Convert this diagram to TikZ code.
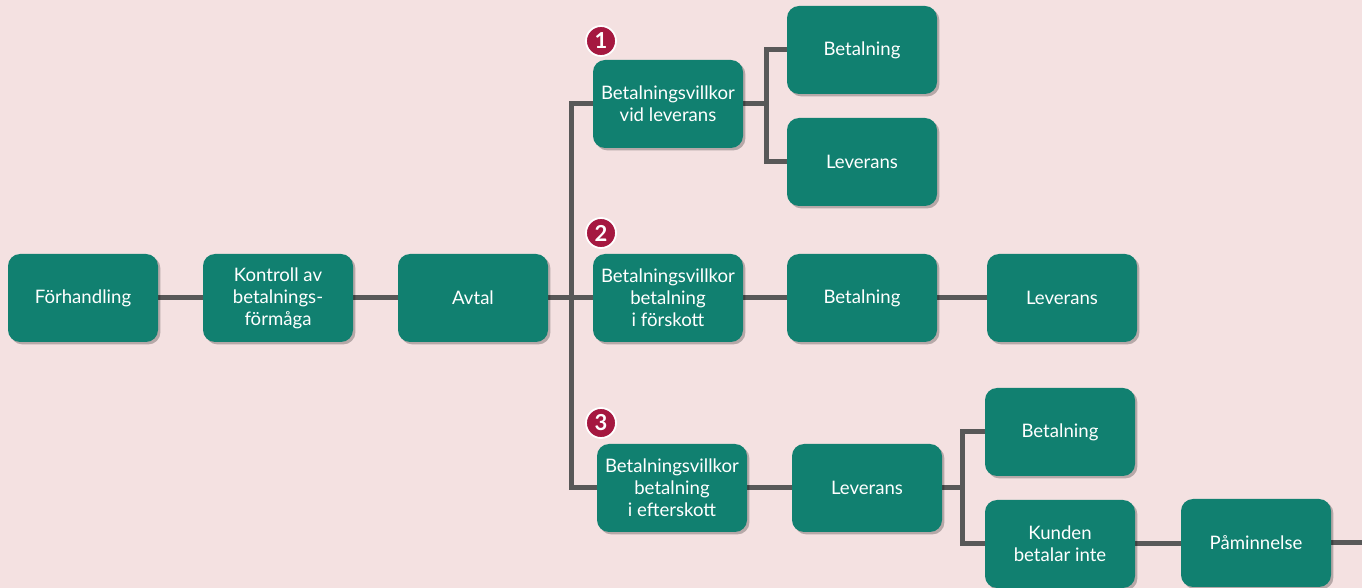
\documentclass[tikz,border=0pt]{standalone}
\usepackage{fontspec}
\setmainfont{Lato}
\usepackage{tikz}
\usetikzlibrary{shadows}
\usetikzlibrary{backgrounds}

\definecolor{bgpink}{RGB}{244,225,225}
\definecolor{boxgreen}{RGB}{17,128,112}
\definecolor{linegray}{RGB}{88,88,88}
\definecolor{numred}{RGB}{165,24,64}

\tikzset{
  box/.style={rectangle, rounded corners=6pt, fill=boxgreen, text=white,
    minimum width=75pt, minimum height=44pt, inner sep=0pt, align=center,
    font=\fontsize{9.3}{11}\selectfont,
    drop shadow={shadow xshift=1.2pt, shadow yshift=-1.2pt, opacity=0.25, fill=black}},
  num/.style={circle, fill=numred, draw=white, line width=0.9pt, text=white,
    minimum size=15pt, inner sep=0pt, font=\fontsize{11}{11}\bfseries},
  link/.style={draw=linegray, line width=2.5pt}
}

\begin{document}
\begin{tikzpicture}[x=0.5pt,y=-0.5pt]
  \useasboundingbox (0,0) rectangle (1362,588);
  \node[box] (forh) at (83,298) {Förhandling};
  \node[box] (kontroll) at (278,298) {Kontroll av\\betalnings-\\förmåga};
  \node[box] (avtal) at (473,298) {Avtal};
  \node[box] (villkorA) at (668,104) {Betalningsvillkor\\vid leverans};
  \node[box] (betA) at (862,50) {Betalning};
  \node[box] (levA) at (862,162) {Leverans};
  \node[box] (villkorB) at (668,298) {Betalningsvillkor\\betalning\\i förskott};
  \node[box] (betB) at (862,298) {Betalning};
  \node[box] (levB) at (1062,298) {Leverans};
  \node[box] (villkorC) at (672,488) {Betalningsvillkor\\betalning\\i efterskott};
  \node[box] (levC) at (867,488) {Leverans};
  \node[box] (betC) at (1060,432) {Betalning};
  \node[box] (kunden) at (1060,544) {Kunden\\betalar inte};
  \node[box] (pamin) at (1256,543) {Påminnelse};
  \node[num] (num1) at (601,41) {1};
  \node[num] (num2) at (601,233) {2};
  \node[num] (num3) at (601,423) {3};
  \coordinate (splitA) at (571,298);
  \coordinate (splitB) at (766,104);
  \coordinate (splitC) at (962,488);
  \coordinate (exit) at (1362,543);
  \begin{scope}[on background layer]
    \fill[bgpink] (0,0) rectangle (1362,588);
    \draw[link] (forh) -- (kontroll);
    \draw[link] (kontroll) -- (avtal);
    \draw[link] (avtal) -- (splitA) -- (villkorB);
    \draw[link] (villkorA.west) -| (splitA) |- (villkorC.west);
    \draw[link] (villkorA) -- (splitB);
    \draw[link] (betA.west) -| (splitB) |- (levA.west);
    \draw[link] (villkorB) -- (betB);
    \draw[link] (betB) -- (levB);
    \draw[link] (villkorC) -- (levC);
    \draw[link] (levC) -- (splitC);
    \draw[link] (betC.west) -| (splitC) |- (kunden.west);
    \draw[link] (kunden.east) -- (kunden.east -| pamin.west);
    \draw[link] (pamin.east) -- (exit);
  \end{scope}
\end{tikzpicture}
\end{document}
